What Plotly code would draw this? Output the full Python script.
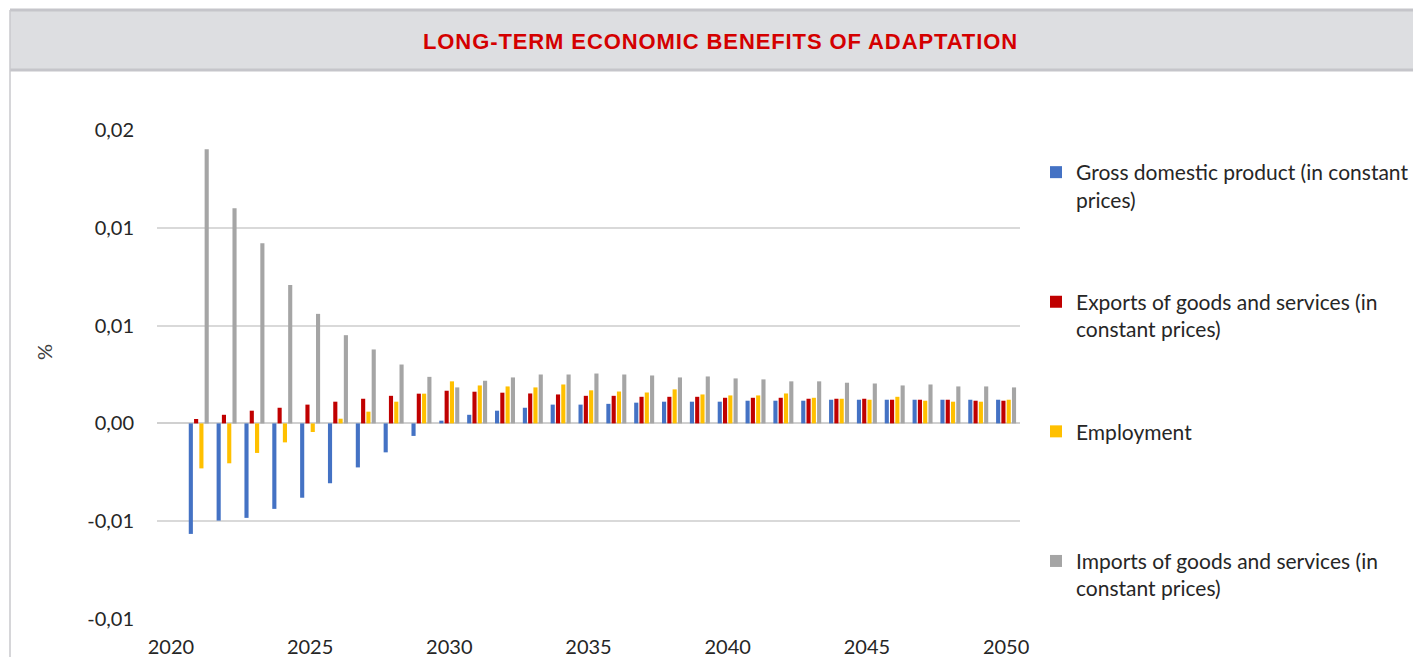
import plotly.graph_objects as go

years = list(range(2021, 2051))
gdp = [-0.00565, -0.00497, -0.00483, -0.00437, -0.0038, -0.00306, -0.00225, -0.00148, -0.00064, 0.00014,
       0.00044, 0.00065, 0.0008, 0.00096, 0.00096, 0.001, 0.00106, 0.00111, 0.00111, 0.00111,
       0.00116, 0.00116, 0.00116, 0.00121, 0.00121, 0.00121, 0.00121, 0.00121, 0.00121, 0.00121]
exports = [0.000225, 0.00044, 0.00065, 0.0008, 0.00096, 0.00111, 0.00126, 0.00141, 0.00152, 0.00167,
           0.00162, 0.00157, 0.00153, 0.00148, 0.00141, 0.00141, 0.00136, 0.00136, 0.00136, 0.00131,
           0.00131, 0.00131, 0.00126, 0.00126, 0.00126, 0.00121, 0.00121, 0.00121, 0.00116, 0.00116]
employment = [-0.0023, -0.00204, -0.00151, -0.00097, -0.00044, 0.00024, 0.0006, 0.00111, 0.00152, 0.00215,
              0.00194, 0.00189, 0.00184, 0.00199, 0.00169, 0.00163, 0.00158, 0.00174, 0.00148, 0.00143,
              0.00143, 0.00153, 0.00131, 0.00126, 0.00121, 0.00136, 0.00116, 0.00111, 0.00111, 0.00121]
imports = [0.01401, 0.0110, 0.00921, 0.00708, 0.0056, 0.00451, 0.00378, 0.00301, 0.00238, 0.00184,
           0.00218, 0.00235, 0.0025, 0.0025, 0.00255, 0.0025, 0.00245, 0.00235, 0.0024, 0.0023,
           0.00225, 0.00215, 0.00215, 0.00208, 0.00204, 0.00194, 0.00199, 0.00189, 0.00189, 0.00184]

series_names = [
    "Gross domestic product (in constant<br>prices)",
    "Exports of goods and services (in<br>constant prices)",
    "Employment<br> ",
    "Imports of goods and services (in<br>constant prices)",
]
series_values = [gdp, exports, employment, imports]
series_colors = ["#4472C4", "#C00000", "#FFC000", "#A5A5A5"]

y_tickvals = [-0.01, -0.005, 0.0, 0.005, 0.01, 0.015]
y_ticktext = ["-0,01", "-0,01", "0,00", "0,01", "0,01", "0,02"]
x_tickvals = [2020, 2025, 2030, 2035, 2040, 2045, 2050]
title_text = "LONG-TERM ECONOMIC BENEFITS OF ADAPTATION"

# page coordinates (the page body adds an 8px offset)
OFF = 8
W, H = 1421, 657
L, R, T, B = 157, 1020, 130, 619


def px2x(px):
    return (px - L) / (R - L)


def px2y(py):
    return (B - py) / (B - T)


FONT = "Lato"

fig = go.Figure()
for name, vals, col in zip(series_names, series_values, series_colors):
    fig.add_trace(go.Bar(x=years, y=vals, name=name, marker_color=col,
                         marker_line_width=0, legendgroup=name))

fig.update_layout(
    width=W - OFF, height=H - OFF,
    margin=dict(l=L - OFF, r=W - R, t=T - OFF, b=H - B, autoexpand=False),
    paper_bgcolor="white", plot_bgcolor="white",
    barmode="group", bargap=0.24, bargroupgap=0.22,
    font=dict(family=FONT, size=20, color="#404040"),
    showlegend=True,
    legend=dict(x=px2x(1036), y=px2y(152), xanchor="left", yanchor="top",
                xref="paper", yref="paper",
                font=dict(family=FONT, size=21, color="#262626"),
                valign="top", tracegroupgap=72, traceorder="grouped",
                itemwidth=30, bgcolor="rgba(0,0,0,0)"),
    shapes=[
        dict(type="rect", xref="paper", yref="paper",
             x0=px2x(10), x1=px2x(1425), y0=px2y(70), y1=px2y(10),
             fillcolor="#dddee1", line=dict(width=0), layer="below"),
        dict(type="line", xref="paper", yref="paper",
             x0=px2x(10), x1=px2x(1425), y0=px2y(10), y1=px2y(10),
             line=dict(color="#c5c5ca", width=3)),
        dict(type="line", xref="paper", yref="paper",
             x0=px2x(10), x1=px2x(1425), y0=px2y(70), y1=px2y(70),
             line=dict(color="#c5c5ca", width=3)),
        dict(type="line", xref="paper", yref="paper",
             x0=px2x(10), x1=px2x(10), y0=px2y(10), y1=px2y(660),
             line=dict(color="#c8c8cc", width=1.5)),
    ],
    annotations=[
        dict(text='<span style="letter-spacing:0.9px"><b>' + title_text + '</b></span>',
             xref="paper", yref="paper", x=px2x(720), y=px2y(41),
             xanchor="center", yanchor="middle", showarrow=False,
             font=dict(family="Liberation Sans", size=22, color="#d40000")),
        dict(text="%", xref="paper", yref="paper", x=px2x(44), y=px2y(352),
             xanchor="center", yanchor="middle", showarrow=False, textangle=-90,
             font=dict(family=FONT, size=20, color="#404040")),
    ],
)

fig.update_xaxes(range=[2019.5, 2050.5], tickvals=x_tickvals, showgrid=False,
                 zeroline=False, showline=False, ticks="outside", ticklen=10,
                 tickcolor="rgba(0,0,0,0)", tickfont=dict(size=20, color="#262626"))
fig.update_yaxes(range=[-0.01, 0.015], tickvals=y_tickvals, ticktext=y_ticktext,
                 showgrid=True, gridcolor="#d9d9d9", gridwidth=1.5,
                 zeroline=True, zerolinecolor="#d0d0d0", zerolinewidth=2,
                 showline=False, ticks="outside", ticklen=18, tickcolor="rgba(0,0,0,0)",
                 tickfont=dict(size=20, color="#262626"))

fig.write_html("out.html")
